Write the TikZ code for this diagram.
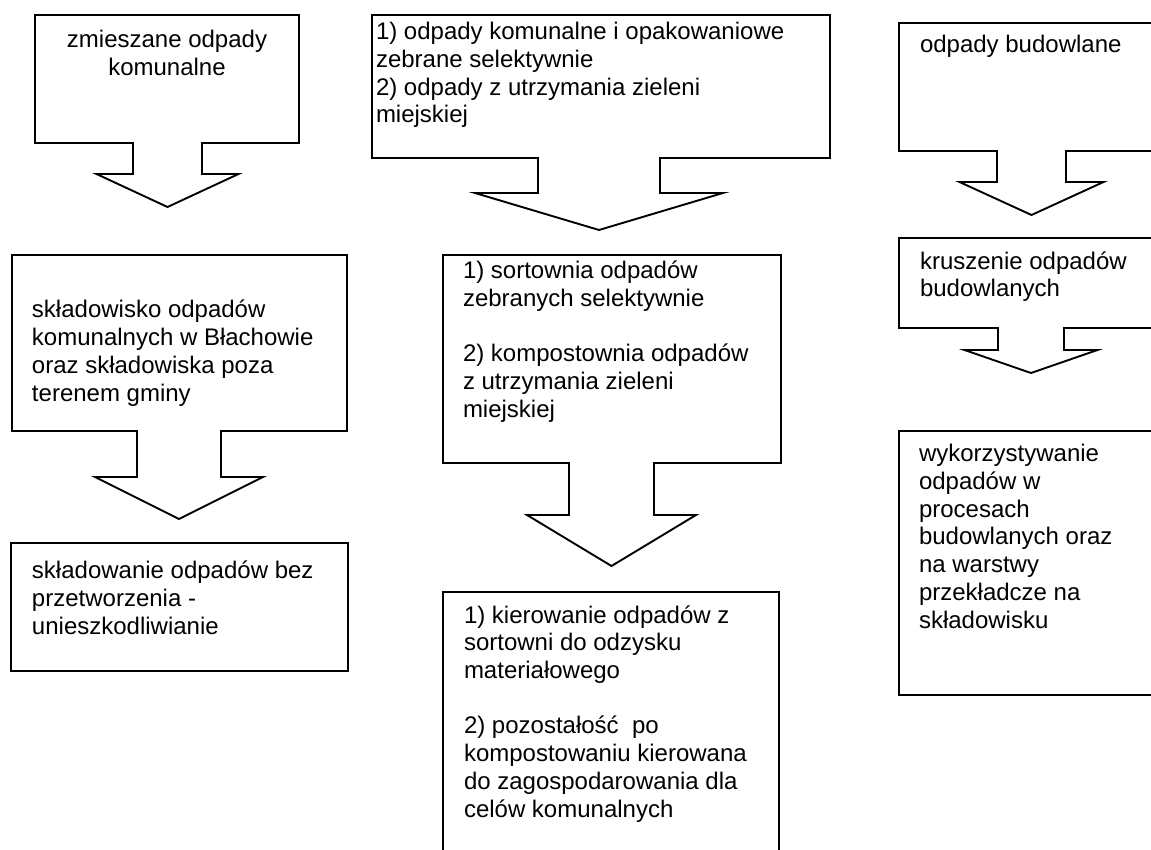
\documentclass[tikz,border=0pt]{standalone}
\usepackage{fontspec}
\setmainfont{Liberation Sans}
\newcommand\arrowbox[9]{%
  \draw[boxline] (#1,#2) -- (#3,#2) -- (#3,#4) -- (#6,#4) -- (#6,#7)
    -- ({(#5+#6)/2+#8},#7) -- ({(#5+#6)/2},#9) -- ({(#5+#6)/2-#8},#7)
    -- (#5,#7) -- (#5,#4) -- (#1,#4) -- cycle;}
\begin{document}
\begin{tikzpicture}[x=0.5pt,y=-0.5pt,
  boxline/.style={draw=black,line width=0.95pt,line join=miter},
  txt/.style={inner sep=0pt,outer sep=0pt,align=left,anchor=base west,
    font=\fontsize{12}{13.85}\selectfont},
  ctxt/.style={txt,align=center,anchor=base}]
\useasboundingbox (0,0) rectangle (1151,850);
\clip (0,0) rectangle (1151,850);
% shapes
\arrowbox{35}{15}{299}{143}{133}{202}{174}{71}{207}
\arrowbox{372}{15}{830}{158}{538}{660}{193}{124}{230}
\arrowbox{899}{23}{1170}{151}{997}{1066}{182}{72}{215}
\arrowbox{12}{255}{347}{431}{137}{221}{477}{84}{519}
\arrowbox{443}{255}{781}{463}{569}{654}{515}{84.5}{566}
\arrowbox{899}{238}{1170}{328}{998}{1064}{350}{66.5}{373}
\draw[boxline] (11,543) rectangle (348,671);
\draw[boxline] (443,592) rectangle (779,880);
\draw[boxline] (899,431) rectangle (1170,695);
% texts (anchored at the baseline of the last line)
\node[ctxt] (n1) at (167,75.5) {zmieszane odpady\\komunalne};
\node[txt] (n2) at (376,123) {1) odpady komunalne i opakowaniowe\\zebrane selektywnie\\2) odpady z utrzymania zieleni\\miejskiej};
\node[txt] (n3) at (920,53) {odpady budowlane};
\node[txt] (n4) at (32,401) {składowisko odpadów\\komunalnych w Błachowie\\oraz składowiska poza\\terenem gminy};
\node[txt] (n5) at (463,417) {1) sortownia odpadów\\zebranych selektywnie\\[13.85pt]2) kompostownia odpadów\\z utrzymania zieleni\\miejskiej};
\node[txt] (n6) at (920,297) {kruszenie odpadów\\budowlanych};
\node[txt] (n7) at (32,634) {składowanie odpadów bez\\przetworzenia -\\unieszkodliwianie};
\node[txt] (n8) at (464,817) {1) kierowanie odpadów z\\sortowni do odzysku\\materiałowego\\[13.85pt]2) pozostałość\ \ po\\kompostowaniu kierowana\\do zagospodarowania dla\\celów komunalnych};
\node[txt] (n9) at (919,628) {wykorzystywanie\\odpadów w\\procesach\\budowlanych oraz\\na warstwy\\przekładcze na\\składowisku};
\end{tikzpicture}
\end{document}
